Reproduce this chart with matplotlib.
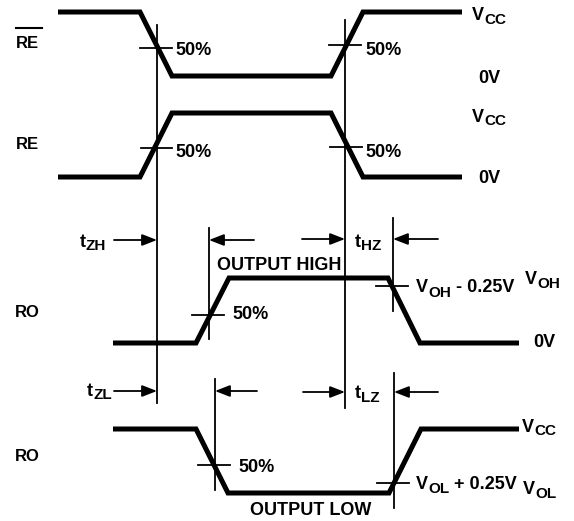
import matplotlib
matplotlib.use("Agg")
import matplotlib.pyplot as plt

# ---- waveform vertices (diagram coordinates, y grows downward) ----
re_bar_x = [58, 140, 172, 331, 363, 462]
re_bar_y = [12, 12, 76, 76, 12, 12]
re_x = [58, 140, 172, 331, 363, 462]
re_y = [177, 177, 113, 113, 177, 177]
ro_high_x = [113, 196, 229, 388, 420, 519]
ro_high_y = [343, 343, 278, 278, 343, 343]
ro_low_x = [113, 196, 228, 389, 421, 519]
ro_low_y = [429, 429, 493, 493, 429, 429]

# reference vertical lines: x, top, bottom
vline_x = [157, 345, 209, 393, 215, 394]
vline_top = [25, 20, 228, 218, 379, 373]
vline_bot = [403, 408, 339, 311, 490, 508]

# crossing tick marks: x0, x1, y
tick_x0 = [140, 329, 141, 330, 192, 376, 198, 377]
tick_x1 = [172, 361, 172, 362, 224, 408, 230, 409]
tick_y = [48, 45, 148, 147, 315, 286, 465, 483]

# timing arrows: tail x, tip x, y
arrow_tail = [114, 254, 302, 438, 114, 257, 303, 438]
arrow_tip = [157, 209, 345, 393, 157, 215, 345, 394]
arrow_y = [240, 240, 239, 239, 391, 391, 392, 392]

FONT = "Liberation Sans"
MAIN = 13
SUB = 11

fig = plt.figure(figsize=(5.74, 5.21), dpi=100)
ax = fig.add_axes([0, 0, 1, 1])
ax.set_xlim(0, 574)
ax.set_ylim(521, 0)
ax.axis("off")

for xs, ys in [(re_bar_x, re_bar_y), (re_x, re_y),
               (ro_high_x, ro_high_y), (ro_low_x, ro_low_y)]:
    ax.plot(xs, ys, color="black", lw=3.6, solid_capstyle="butt",
            solid_joinstyle="miter")

for x, t, b in zip(vline_x, vline_top, vline_bot):
    ax.plot([x, x], [t, b], color="black", lw=1.3)

for x0, x1, y in zip(tick_x0, tick_x1, tick_y):
    ax.plot([x0, x1], [y, y], color="black", lw=1.3)

for t, h, y in zip(arrow_tail, arrow_tip, arrow_y):
    ax.annotate("", xy=(h, y), xytext=(t, y),
                arrowprops=dict(arrowstyle="-|>,head_length=0.9,head_width=0.35",
                                mutation_scale=10, lw=1.3, color="black",
                                shrinkA=0, shrinkB=0))


def txt(x, y, s, size=MAIN, ha="left"):
    return ax.text(x, y, s, fontsize=size, fontweight="bold", family=FONT,
                   ha=ha, va="baseline")


def subtxt(x, y, main, sub, ysub, rest=None):
    m = txt(x, y, main)
    s = ax.annotate(sub, xy=(1, ysub), xycoords=(m, "data"), fontsize=SUB,
                    fontweight="bold", family=FONT, ha="left", va="baseline")
    if rest is not None:
        ax.annotate(rest, xy=(1, y), xycoords=(s, "data"), fontsize=MAIN,
                    fontweight="bold", family=FONT, ha="left", va="baseline")
    return m


# left signal names
txt(16, 48, "RE", size=12)
ax.plot([16, 42], [28, 28], color="black", lw=1.5)
txt(16, 149, "RE", size=12)
txt(15, 317, "RO", size=12)
txt(15, 461, "RO", size=12)

# 50% labels
for x, y in [(175, 55), (365, 55), (175, 157), (365, 157), (232, 319), (238, 472)]:
    txt(x, y, "50%")

# right-side levels
subtxt(472, 20, "V", "CC", 24)
txt(478, 83, "0V")
subtxt(472, 122, "V", "CC", 125)
txt(478, 183, "0V")
subtxt(416, 292, "V", "OH", 297, " - 0.25V")
subtxt(525, 284, "V", "OH", 288)
txt(533, 347, "0V")
subtxt(522, 432, "V", "CC", 435)
subtxt(416, 489, "V", "OL", 493, " + 0.25V")
subtxt(523, 494, "V", "OL", 498)

# timing names
subtxt(80, 247, "t", "ZH", 250)
subtxt(355, 247, "t", "HZ", 250)
subtxt(87, 396, "t", "ZL", 399)
subtxt(355, 398, "t", "LZ", 402)

txt(279, 270, "OUTPUT HIGH", ha="center")
txt(311, 515, "OUTPUT LOW", ha="center")

fig.savefig("out.png", dpi=100)
